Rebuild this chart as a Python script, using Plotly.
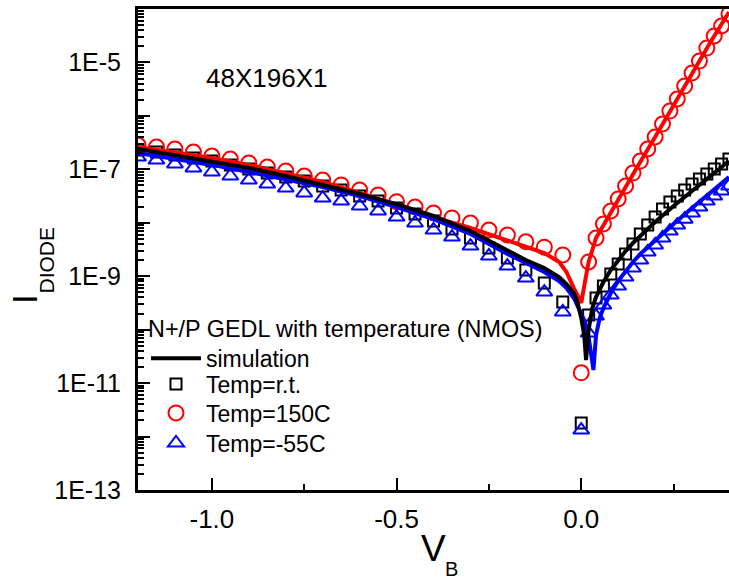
import plotly.graph_objects as go

# ---------------- data ----------------
V_data = [-1.20, -1.15, -1.10, -1.05, -1.00, -0.95, -0.90, -0.85, -0.80, -0.75,
          -0.70, -0.65, -0.60, -0.55, -0.50, -0.45, -0.40, -0.35, -0.30, -0.25,
          -0.20, -0.15, -0.10, -0.05, 0.00,
          0.02, 0.04, 0.06, 0.08, 0.10, 0.12, 0.14, 0.16, 0.18, 0.20,
          0.22, 0.24, 0.26, 0.28, 0.30, 0.32, 0.34, 0.36, 0.38, 0.40]

I_rt = [2.30e-7, 2.11e-7, 1.85e-7, 1.63e-7, 1.43e-7, 1.21e-7, 1.01e-7, 8.53e-8, 7.18e-8, 6.04e-8,
        4.88e-8, 4.10e-8, 3.17e-8, 2.55e-8, 1.89e-8, 1.46e-8, 1.08e-8, 7.64e-9, 5.19e-9, 3.37e-9,
        2.19e-9, 1.31e-9, 7.46e-10, 3.29e-10, 1.79e-12,
        1.88e-10, 3.91e-10, 6.55e-10, 1.10e-9, 1.69e-9, 2.60e-9, 4.00e-9, 6.17e-9, 9.08e-9, 1.28e-8,
        1.81e-8, 2.44e-8, 3.17e-8, 4.10e-8, 5.31e-8, 6.59e-8, 8.17e-8, 1.01e-7, 1.26e-7, 1.56e-7]

I_150 = [2.85e-7, 2.62e-7, 2.40e-7, 2.11e-7, 1.77e-7, 1.56e-7, 1.31e-7, 1.10e-7, 9.3e-8, 7.5e-8,
         6.3e-8, 5.1e-8, 4.1e-8, 3.3e-8, 2.48e-8, 1.97e-8, 1.52e-8, 1.23e-8, 9.9e-9, 7.3e-9,
         5.9e-9, 4.4e-9, 3.5e-9, 2.5e-9, 1.56e-11,
         1.85e-9, 5.19e-9, 9.5e-9, 1.66e-8, 2.79e-8, 4.88e-8, 8.5e-8, 1.43e-7, 2.40e-7, 4.03e-7,
         7.05e-7, 1.23e-6, 2.07e-6, 3.62e-6, 6.34e-6, 1.06e-5, 1.86e-5, 3.13e-5, 4.81e-5, 8.06e-5]

I_m55 = [1.70e-7, 1.49e-7, 1.26e-7, 1.06e-7, 8.91e-8, 7.50e-8, 6.31e-8, 5.31e-8, 4.47e-8, 3.61e-8,
         2.90e-8, 2.55e-8, 2.06e-8, 1.66e-8, 1.28e-8, 9.9e-9, 7.33e-9, 5.41e-9, 3.67e-9, 2.39e-9,
         1.55e-9, 9.25e-10, 5.06e-10, 2.14e-10, 1.32e-12,
         8.65e-11, 1.80e-10, 2.89e-10, 4.45e-10, 6.55e-10, 9.66e-10, 1.42e-9, 2.01e-9, 2.84e-9, 3.84e-9,
         5.19e-9, 7.01e-9, 9.08e-9, 1.17e-8, 1.52e-8, 1.97e-8, 2.55e-8, 3.17e-8, 3.93e-8, 4.88e-8]

# simulations
V_sim_rt = [-1.20, -1.10, -1.00, -0.90, -0.80, -0.70, -0.60, -0.50, -0.40, -0.30,
            -0.20, -0.15, -0.10, -0.06, -0.04, -0.02, -0.01, 0.00, 0.008, 0.013,
            0.02, 0.03, 0.04, 0.06, 0.08, 0.10, 0.12, 0.14, 0.16, 0.20,
            0.25, 0.30, 0.35, 0.40]
I_sim_rt = [2.40e-7, 1.85e-7, 1.43e-7, 1.06e-7, 7.50e-8, 5.09e-8, 3.45e-8, 2.24e-8, 1.34e-8, 7.01e-9,
            3.09e-9, 2.01e-9, 1.42e-9, 9.66e-10, 7.14e-10, 4.84e-10, 3.16e-10, 1.65e-10, 7.94e-11, 2.70e-11,
            9.84e-11, 2.54e-10, 4.08e-10, 7.78e-10, 1.31e-9, 2.01e-9, 2.96e-9, 4.18e-9, 5.65e-9, 1.03e-8,
            2.06e-8, 3.93e-8, 7.50e-8, 1.43e-7]

V_sim_150 = [-1.20, -1.10, -1.00, -0.90, -0.80, -0.70, -0.60, -0.50, -0.40, -0.30,
             -0.20, -0.15, -0.10, -0.06, -0.04, -0.02, 0.00, 0.01, 0.02, 0.04,
             0.06, 0.10, 0.15, 0.20, 0.25, 0.30, 0.35, 0.40]
I_sim_150 = [2.62e-7, 2.11e-7, 1.63e-7, 1.21e-7, 8.53e-8, 5.79e-8, 3.61e-8, 2.15e-8, 1.28e-8, 7.98e-9,
             4.75e-9, 3.52e-9, 2.72e-9, 1.85e-9, 1.20e-9, 6.01e-10, 3.16e-10, 7.78e-10, 1.85e-9, 5.19e-9,
             9.08e-9, 2.79e-8, 1.06e-7, 4.03e-7, 1.60e-6, 6.34e-6, 2.41e-5, 8.79e-5]

V_sim_m55 = [-1.20, -1.10, -1.00, -0.90, -0.80, -0.70, -0.60, -0.50, -0.40, -0.30,
             -0.20, -0.15, -0.10, -0.06, -0.04, -0.02, 0.00, 0.01, 0.02, 0.033,
             0.04, 0.05, 0.06, 0.08, 0.10, 0.12, 0.14, 0.16, 0.20, 0.25,
             0.30, 0.35, 0.40]
I_sim_m55 = [2.02e-7, 1.56e-7, 1.21e-7, 8.91e-8, 6.59e-8, 4.67e-8, 3.17e-8, 1.97e-8, 1.17e-8, 6.17e-9,
             2.60e-9, 1.77e-9, 1.20e-9, 8.13e-10, 6.01e-10, 3.91e-10, 2.05e-10, 1.39e-10, 7.28e-11, 1.76e-11,
             7.94e-11, 1.65e-10, 2.54e-10, 4.84e-10, 8.13e-10, 1.25e-9, 1.85e-9, 2.60e-9, 4.75e-9, 9.5e-9,
             1.89e-8, 3.77e-8, 7.18e-8]

x_tick_vals = [-1.0, -0.5, 0.0]
x_tick_text = ["-1.0", "-0.5", "0.0"]
x_minor_vals = [-0.75, -0.25, 0.25]
y_exponents = list(range(-13, -3))
y_tick_text = ["1E-13", "", "1E-11", "", "1E-9", "", "1E-7", "", "1E-5", ""]

# ---------------- figure ----------------
FONT = "Liberation Sans, Arial, Helvetica, sans-serif"
W, H = 729, 582
ML, MR, MT, MB = 138, 0, 9, 92
PW, PH = W - ML - MR, H - MT - MB


def px_x(px):
    return (px - ML) / PW


def px_y(py):
    return (H - MB - py) / PH


fig = go.Figure()

fig.add_trace(go.Scatter(x=V_data, y=I_rt, mode="markers", name="Temp=r.t.", legend="legend2",
                         marker=dict(symbol="square-open", size=11, color="black",
                                     line=dict(width=2, color="black"))))
fig.add_trace(go.Scatter(x=V_data, y=I_150, mode="markers", name="Temp=150C", legend="legend3",
                         marker=dict(symbol="circle-open", size=15, color="red",
                                     line=dict(width=2, color="red"))))
fig.add_trace(go.Scatter(x=V_data, y=I_m55, mode="markers", name="Temp=-55C", legend="legend4",
                         marker=dict(symbol="triangle-up-open", size=14, color="blue",
                                     line=dict(width=2, color="blue"))))
fig.add_trace(go.Scatter(x=V_sim_150, y=I_sim_150, mode="lines", showlegend=False,
                         line=dict(color="red", width=4)))
fig.add_trace(go.Scatter(x=V_sim_m55, y=I_sim_m55, mode="lines", showlegend=False,
                         line=dict(color="blue", width=4)))
fig.add_trace(go.Scatter(x=V_sim_rt, y=I_sim_rt, mode="lines", name="simulation", legend="legend",
                         line=dict(color="black", width=4)))

fig.add_annotation(x=-1.02, y=-5.29, xref="x", yref="y", text="48X196X1", showarrow=False,
                   xanchor="left", yanchor="middle", font=dict(size=26, color="black", family=FONT))

# axis titles: main letter and subscript as separate texts
title_parts = [
    dict(text="V", px=433, py=548, size=37, angle=0),
    dict(text="B", px=451, py=569, size=20, angle=0),
    dict(text="I", px=24.5, py=299.5, size=35, angle=-90),
    dict(text="DIODE", px=45.5, py=260, size=21, angle=-90),
]
for t in title_parts:
    fig.add_annotation(x=px_x(t["px"]), y=px_y(t["py"]), xref="paper", yref="paper",
                       text=t["text"], textangle=t["angle"], showarrow=False,
                       xanchor="center", yanchor="middle",
                       font=dict(size=t["size"], color="black", family=FONT))

minor_y = [k * 10.0 ** e for e in range(-13, -4) for k in range(2, 10)]

leg_common = dict(x=px_x(146), xanchor="left", yanchor="middle", bgcolor="rgba(0,0,0,0)",
                  borderwidth=0, font=dict(size=23, family=FONT), itemwidth=50)

fig.update_layout(
    width=W, height=H,
    margin=dict(l=ML, r=MR, t=MT, b=MB, autoexpand=False),
    paper_bgcolor="white", plot_bgcolor="white",
    font=dict(family=FONT, color="black", size=23),
    showlegend=True,
    hovermode=False,
    legend=dict(**leg_common, y=px_y(343.5),
                title=dict(text="N+/P GEDL with temperature (NMOS)", side="top",
                           font=dict(size=23.4, family=FONT))),
    legend2=dict(**leg_common, y=px_y(384)),
    legend3=dict(**leg_common, y=px_y(413)),
    legend4=dict(**leg_common, y=px_y(443)),
    xaxis=dict(range=[-1.2, 0.4], showline=True, linecolor="black", linewidth=3, mirror=True,
               automargin=False,
               showgrid=False, zeroline=False, ticks="inside", ticklen=12, tickwidth=2,
               tickcolor="black", tickmode="array", tickvals=x_tick_vals, ticktext=x_tick_text,
               tickfont=dict(size=26, family=FONT), ticklabelstandoff=4,
               minor=dict(tickmode="array", tickvals=x_minor_vals, ticks="inside", ticklen=6,
                          tickwidth=2, tickcolor="black", showgrid=False)),
    yaxis=dict(type="log", range=[-13, -4], showline=True, linecolor="black", linewidth=3,
               mirror=False, showgrid=False, zeroline=False, ticks="inside", ticklen=12,
               automargin=False,
               tickwidth=2, tickcolor="black", tickmode="array",
               tickvals=[10.0 ** e for e in y_exponents], ticktext=y_tick_text,
               tickfont=dict(size=25, family=FONT), ticklabelstandoff=9,
               minor=dict(tickmode="array", tickvals=minor_y, ticks="inside", ticklen=6,
                          tickwidth=2, tickcolor="black", showgrid=False)),
)

fig.write_html("out.html", config={"displayModeBar": False},
               post_script="document.body.style.margin='0';document.body.style.overflow='hidden';")
